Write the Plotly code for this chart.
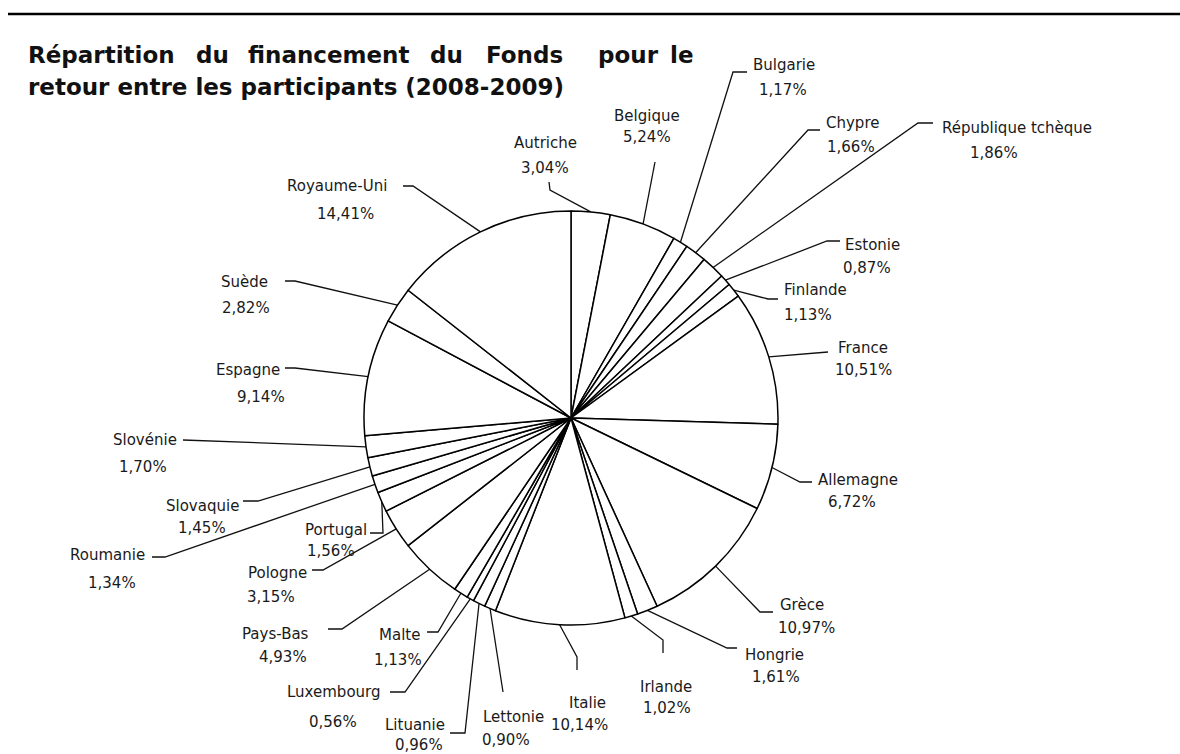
import math
import plotly.graph_objects as go

# ---------------- data ----------------
countries = [
    "Autriche", "Belgique", "Bulgarie", "Chypre", "République tchèque", "Estonie",
    "Finlande", "France", "Allemagne", "Grèce", "Hongrie", "Irlande", "Italie",
    "Lettonie", "Lituanie", "Luxembourg", "Malte", "Pays-Bas", "Pologne",
    "Portugal", "Roumanie", "Slovaquie", "Slovénie", "Espagne", "Suède",
    "Royaume-Uni",
]
shares = [
    3.04, 5.24, 1.17, 1.66, 1.86, 0.87,
    1.13, 10.51, 6.72, 10.97, 1.61, 1.02, 10.14,
    0.90, 0.96, 0.56, 1.13, 4.93, 3.15,
    1.56, 1.34, 1.45, 1.70, 9.14, 2.82,
    14.41,
]
value_texts = [f"{v:.2f}%".replace(".", ",") for v in shares]

title_line1_words = ["Répartition", "du", "financement", "du", "Fonds", "pour", "le"]
title_line2 = "retour entre les participants (2008-2009)"

# ---------------- layout (pixel positions, y downward) ----------------
W, H = 1180, 754
CX, CY, R = 571, 418, 207

# name centre, value centre, leader path after the slice edge point
label_layout = {
    "Autriche": ((545, 143), (545, 168), [(550, 190), (549, 182)]),
    "Belgique": ((647, 116), (647, 137), [(655, 162)]),
    "Bulgarie": ((784, 65), (783, 90), [(733, 72), (747, 72)]),
    "Chypre": ((852, 123), (851, 147), [(808, 130), (820, 130)]),
    "République tchèque": ((1017, 128), (994, 153), [(918, 123), (933, 123)]),
    "Estonie": ((872, 245), (867, 268), [(827, 241), (840, 241)]),
    "Finlande": ((815, 290), (808, 315), [(768, 299), (778, 299)]),
    "France": ((863, 348), (863, 370), [(828, 352)]),
    "Allemagne": ((858, 480), (852, 502), [(800, 482), (812, 482)]),
    "Grèce": ((802, 605), (806, 628), [(760, 612), (773, 612)]),
    "Hongrie": ((774, 655), (776, 677), [(727, 648), (737, 648)]),
    "Irlande": ((666, 687), (667, 708), [(663, 640), (663, 653)]),
    "Italie": ((587, 703), (579, 725), [(577, 657), (577, 670)]),
    "Lettonie": ((513, 717), (506, 740), [(503, 692)]),
    "Lituanie": ((415, 725), (419, 745), [(465, 733), (450, 733)]),
    "Luxembourg": ((334, 692), (333, 722), [(405, 692), (390, 692)]),
    "Malte": ((399, 635), (398, 660), [(438, 632), (427, 632)]),
    "Pays-Bas": ((275, 634), (283, 657), [(342, 629), (328, 629)]),
    "Pologne": ((277, 573), (271, 597), [(323, 570), (312, 570)]),
    "Portugal": ((336, 530), (331, 551), [(383, 533), (370, 533)]),
    "Roumanie": ((107, 555), (112, 583), [(165, 557), (152, 557)]),
    "Slovaquie": ((202, 506), (202, 528), [(258, 501), (243, 501)]),
    "Slovénie": ((145, 440), (143, 467), [(183, 440)]),
    "Espagne": ((248, 370), (261, 397), [(295, 368), (285, 368)]),
    "Suède": ((244, 282), (246, 308), [(295, 281), (285, 281)]),
    "Royaume-Uni": ((337, 186), (345, 214), [(413, 186), (403, 186)]),
}

title_line1_x = [26, 194, 246, 428, 484, 596, 668]
title_font = dict(family="DejaVu Sans", size=23, color="#111111")
label_font = dict(family="DejaVu Sans", size=15, color="#1a1a1a")

fig = go.Figure()

fig.add_trace(go.Pie(
    labels=countries,
    values=shares,
    sort=False,
    direction="clockwise",
    rotation=0,
    textinfo="none",
    hoverinfo="label+percent",
    marker=dict(colors=["#ffffff"] * len(countries),
                line=dict(color="#000000", width=1.5)),
    domain=dict(x=[(CX - R) / W, (CX + R) / W],
                y=[(H - CY - R) / H, (H - CY + R) / H]),
    showlegend=False,
))

# leader lines from the slice mid-angle on the rim
total = sum(shares)
cum = 0.0
annotations = []
for name, v, vt in zip(countries, shares, value_texts):
    mid = (cum + v / 2) / total * 2 * math.pi
    cum += v
    sx = CX + R * math.sin(mid)
    sy = CY - R * math.cos(mid)
    (nx, ny), (vx, vy), path = label_layout[name]
    xs = [sx] + [p[0] for p in path]
    ys = [sy] + [p[1] for p in path]
    fig.add_trace(go.Scatter(
        x=xs, y=ys, mode="lines", xaxis="x", yaxis="y",
        line=dict(color="#111111", width=1.3),
        hoverinfo="skip", showlegend=False,
    ))
    annotations.append(dict(x=nx, y=ny, xref="x", yref="y", text=name,
                            showarrow=False, font=label_font,
                            xanchor="center", yanchor="middle"))
    annotations.append(dict(x=vx, y=vy, xref="x", yref="y", text=vt,
                            showarrow=False, font=label_font,
                            xanchor="center", yanchor="middle"))

# title (first line justified word by word)
for wd, x in zip(title_line1_words, title_line1_x):
    annotations.append(dict(x=x, y=55, xref="x", yref="y", text=f"<b>{wd}</b>",
                            showarrow=False, font=title_font,
                            xanchor="left", yanchor="middle"))
annotations.append(dict(x=26, y=87, xref="x", yref="y", text=f"<b>{title_line2}</b>",
                        showarrow=False, font=title_font,
                        xanchor="left", yanchor="middle"))

fig.update_layout(
    width=W, height=H, autosize=False,
    margin=dict(l=0, r=0, t=0, b=0),
    paper_bgcolor="#ffffff", plot_bgcolor="rgba(0,0,0,0)",
    xaxis=dict(range=[0, W], visible=False, fixedrange=True, domain=[0, 1]),
    yaxis=dict(range=[H, 0], visible=False, fixedrange=True, domain=[0, 1]),
    annotations=annotations,
    shapes=[dict(type="line", xref="x", yref="y", x0=8, x1=W, y0=14, y1=14,
                 line=dict(color="#000000", width=2.5))],
)

fig.write_html(
    "out.html",
    config={"displayModeBar": False},
    post_script="document.body.style.margin='0px';document.body.style.overflow='hidden';",
)
